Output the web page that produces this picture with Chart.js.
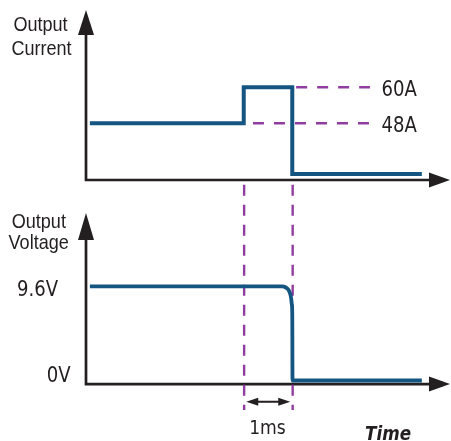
<!DOCTYPE html>
<html>
<head>
<meta charset="utf-8">
<script src="https://cdn.jsdelivr.net/npm/chart.js@4"></script>
<style>
  html, body { margin: 0; padding: 0; background: #ffffff; }
  #wrap { width: 451px; height: 441px; position: relative; }
</style>
</head>
<body>
<div id="wrap"><canvas id="c" width="451" height="441"></canvas></div>
<script>
// ---- data (time in ms, current in A, voltage in V) ----
const currentTimes = [0.08, 3.25, 4.25, 6.92];
const currentAmps  = [48, 60, 31, 31];

const voltageTimes = [0.08, 4.04, 4.11, 4.16, 4.2, 4.225, 4.24, 4.25, 4.255, 6.92];
const voltageVolts = [9.6, 9.6, 9.52, 9.32, 8.95, 8.45, 7.8, 6.8, 0, 0];

const eventTimes = [3.25, 4.25];          // load step / shutdown
const currentMarks = [60, 48];            // dashed reference levels
const currentMarkLabels = ['60A', '48A'];
const voltageMarks = [9.6, 0];
const voltageMarkLabels = ['9.6V', '0V'];
const intervalLabel = '1ms';
const timeLabel = 'Time';

// ---- styling ----
const BLUE = '#145582';
const PURPLE = '#913ca0';
const INK = '#231f20';
const SX = 0.86; // horizontal text compression

const currentPoints = currentTimes.map((t, i) => ({ x: t, y: currentAmps[i] }));
const voltagePoints = voltageTimes.map((t, i) => ({ x: t, y: voltageVolts[i] }));

function txt(ctx, s, x, y, font, align) {
  ctx.save();
  ctx.translate(x, y);
  ctx.scale(SX, 1);
  ctx.font = font;
  ctx.fillStyle = INK;
  ctx.textAlign = align;
  ctx.textBaseline = 'alphabetic';
  ctx.fillText(s, 0, 0);
  ctx.restore();
}

function arrowHead(ctx, tipX, tipY, dir, len, half) {
  ctx.beginPath();
  if (dir === 'up') {
    ctx.moveTo(tipX, tipY);
    ctx.lineTo(tipX - half, tipY + len);
    ctx.lineTo(tipX + half, tipY + len);
  } else if (dir === 'right') {
    ctx.moveTo(tipX, tipY);
    ctx.lineTo(tipX - len, tipY - half);
    ctx.lineTo(tipX - len, tipY + half);
  } else if (dir === 'left') {
    ctx.moveTo(tipX, tipY);
    ctx.lineTo(tipX + len, tipY - half);
    ctx.lineTo(tipX + len, tipY + half);
  }
  ctx.closePath();
  ctx.fill();
}

const diagram = {
  id: 'diagram',
  beforeDatasetsDraw(chart) {
    const { ctx, scales: { x, yC, yV } } = chart;
    const o = chart.options.plugins.diagram;
    const x0 = x.getPixelForValue(x.min);
    const xEnd = x.getPixelForValue(x.max);
    const topBase = yC.getPixelForValue(o.curAxisBase);
    const topTip = yC.getPixelForValue(o.curAxisTip);
    const botBase = yV.getPixelForValue(o.voltAxisBase);
    const botTip = yV.getPixelForValue(o.voltAxisTip);

    ctx.save();
    // axes
    ctx.strokeStyle = INK;
    ctx.fillStyle = INK;
    ctx.lineWidth = 2.7;
    ctx.lineCap = 'square';
    ctx.beginPath();
    ctx.moveTo(x0, topTip + 10); ctx.lineTo(x0, topBase);
    ctx.moveTo(x0, topBase); ctx.lineTo(xEnd - 10, topBase);
    ctx.moveTo(x0, botTip + 10); ctx.lineTo(x0, botBase);
    ctx.moveTo(x0, botBase); ctx.lineTo(xEnd - 10, botBase);
    ctx.stroke();
    ctx.lineCap = 'butt';
    arrowHead(ctx, x0, topTip, 'up', 25, 8);
    arrowHead(ctx, x0, botTip, 'up', 27, 8);
    arrowHead(ctx, xEnd, topBase, 'right', 21, 7.5);
    arrowHead(ctx, xEnd, botBase, 'right', 21, 7.5);

    // dashed vertical event lines
    ctx.strokeStyle = PURPLE;
    ctx.lineWidth = 2.4;
    ctx.setLineDash([11, 9]);
    eventTimes.forEach(t => {
      const px = x.getPixelForValue(t) + 0.4;
      ctx.beginPath();
      ctx.moveTo(px, topBase + 4.7);
      ctx.lineTo(px, botBase + 26);
      ctx.stroke();
    });

    // dashed horizontal current levels
    ctx.lineWidth = 2.6;
    ctx.setLineDash([11, 10]);
    const starts = [o.dash60Start, o.dash48Start];
    currentMarks.forEach((v, i) => {
      const py = yC.getPixelForValue(v);
      ctx.beginPath();
      ctx.moveTo(x.getPixelForValue(starts[i]), py);
      ctx.lineTo(x.getPixelForValue(o.dashEnd), py);
      ctx.stroke();
    });
    ctx.setLineDash([]);

    // double-headed interval arrow
    const ax1 = x.getPixelForValue(eventTimes[0]) + 2.5;
    const ax2 = x.getPixelForValue(eventTimes[1]) - 2;
    const ay = botBase + 17.7;
    ctx.strokeStyle = INK;
    ctx.fillStyle = INK;
    ctx.lineWidth = 1.8;
    ctx.beginPath();
    ctx.moveTo(ax1 + 6, ay); ctx.lineTo(ax2 - 6, ay);
    ctx.stroke();
    arrowHead(ctx, ax1, ay, 'left', 12, 4);
    arrowHead(ctx, ax2, ay, 'right', 12, 4);
    ctx.restore();
  },
  afterDatasetsDraw(chart) {
    const { ctx, scales: { x, yC, yV } } = chart;
    const o = chart.options.plugins.diagram;
    const sans = '"Liberation Sans", Arial, sans-serif';
    const num = '"DejaVu Sans", Verdana, sans-serif';
    const botBase = yV.getPixelForValue(o.voltAxisBase);

    // axis titles
    txt(ctx, 'Output', 40.5, 31, '21px ' + sans, 'center');
    txt(ctx, 'Current', 41.5, 54.5, '21px ' + sans, 'center');
    txt(ctx, 'Output', 38.8, 227.5, '21px ' + sans, 'center');
    txt(ctx, 'Voltage', 38.7, 248.5, '21px ' + sans, 'center');

    // current level labels
    currentMarks.forEach((v, i) => {
      const py = yC.getPixelForValue(v);
      txt(ctx, currentMarkLabels[i], x.getPixelForValue(o.labelTime), py + 8.5, '21px ' + num, 'left');
    });
    // voltage level labels
    const vLeft = [17, 46.7];
    const vOff = [10, 1.2];
    voltageMarks.forEach((v, i) => {
      const py = yV.getPixelForValue(v);
      txt(ctx, voltageMarkLabels[i], vLeft[i], py + vOff[i], '21px ' + num, 'left');
    });

    // interval and time labels
    const mid = (x.getPixelForValue(eventTimes[0]) + x.getPixelForValue(eventTimes[1])) / 2;
    txt(ctx, intervalLabel, mid - 0.5, botBase + 50, '20px ' + num, 'center');
    txt(ctx, timeLabel, 388, botBase + 56, 'italic bold 19.5px ' + num, 'center');
  }
};

new Chart(document.getElementById('c'), {
  type: 'line',
  data: {
    datasets: [
      {
        label: 'Output Current',
        data: currentPoints,
        xAxisID: 'x',
        yAxisID: 'yC',
        stepped: true,
        borderColor: BLUE,
        borderWidth: 4,
        borderJoinStyle: 'miter',
        borderCapStyle: 'butt',
        pointRadius: 0,
        fill: false
      },
      {
        label: 'Output Voltage',
        data: voltagePoints,
        xAxisID: 'x',
        yAxisID: 'yV',
        cubicInterpolationMode: 'monotone',
        borderColor: BLUE,
        borderWidth: 3.8,
        borderJoinStyle: 'miter',
        borderCapStyle: 'butt',
        pointRadius: 0,
        fill: false
      }
    ]
  },
  options: {
    responsive: false,
    animation: false,
    events: [],
    layout: { padding: { left: 86, right: 1, top: 0, bottom: 0 } },
    scales: {
      x: { type: 'linear', min: 0, max: 7.5, display: false },
      yC: { type: 'linear', min: -58.3, max: 89.2, display: false },
      yV: { type: 'linear', min: -6.17, max: 38.82, display: false }
    },
    plugins: {
      legend: { display: false },
      tooltip: { enabled: false },
      diagram: {
        curAxisBase: 29.0,
        curAxisTip: 85.85,
        voltAxisBase: -0.36,
        voltAxisTip: 17.09,
        dash60Start: 4.33,
        dash48Start: 3.44,
        dashEnd: 5.85,
        labelTime: 6.09
      }
    }
  },
  plugins: [diagram]
});
</script>
</body>
</html>
